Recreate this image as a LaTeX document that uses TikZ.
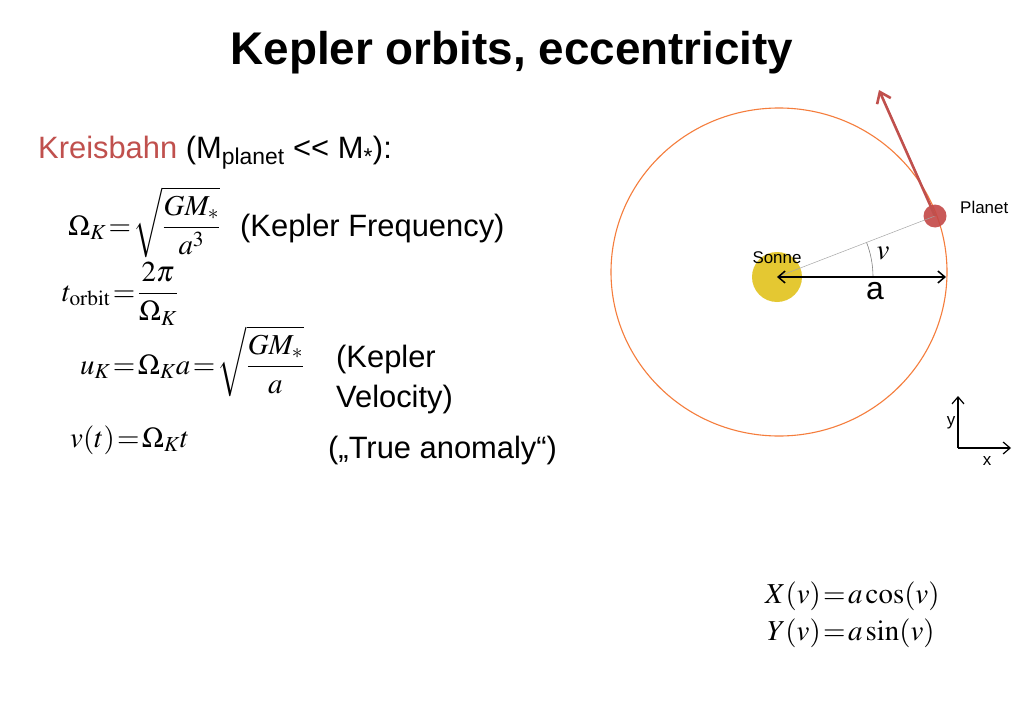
\documentclass[tikz,border=0pt]{standalone}
\usepackage{mathptmx}
\usepackage[no-math]{fontspec}
\setmainfont{Liberation Sans}
\usetikzlibrary{arrows.meta}
\definecolor{kred}{RGB}{192,80,77}
\definecolor{orbitc}{RGB}{245,125,60}
\definecolor{sunc}{RGB}{228,200,50}
\definecolor{planetc}{RGB}{196,72,70}
\definecolor{arrowc}{RGB}{192,80,77}
\begin{document}
\begin{tikzpicture}[x=1bp,y=-1bp,
  txt/.style={inner sep=0pt, font=\fontsize{31}{39}\selectfont},
  eq/.style={inner sep=0pt, font=\fontsize{29}{35}\selectfont},
  small/.style={inner sep=0pt, font=\fontsize{17}{20}\selectfont},
  barbtip/.tip={Straight Barb[length=7bp,width=12bp]},
  redtip/.tip={Straight Barb[length=10bp,width=15bp]}]
\useasboundingbox (0,0) rectangle (1023,708);
\fill[white] (0,0) rectangle (1023,708);

% title
\node[inner sep=0pt, anchor=base, font=\fontsize{46}{50}\selectfont\bfseries] (title) at (512,65) {Kepler orbits, eccentricity};

% left text
\node[txt, anchor=base west] (kreis) at (38,159) {\textcolor{kred}{Kreisbahn} (M\textsubscript{planet} <\kern0pt< M\textsubscript{*}):};

\node[eq, anchor=base west] (omk) at (68,235) {$\thickmuskip=1.5mu\displaystyle\Omega_K=\sqrt{\frac{GM_*}{a^3}}$};
\node[txt, anchor=base west] (kfreq) at (240,236) {(Kepler Frequency)};

\node[eq, anchor=base west] (torb) at (62,301) {$\thickmuskip=1.5mu\displaystyle t_{\mathrm{orbit}}=\frac{2\pi}{\Omega_K}$};

\node[eq, anchor=base west] (uk) at (80,374) {$\thickmuskip=1.5mu\displaystyle u_K=\Omega_K a=\sqrt{\frac{GM_*}{a}}$};
\node[txt, anchor=base west, align=left] (kvel) at (336,407) {(Kepler\\[1pt]Velocity)};

\node[eq, anchor=base west] (vt) at (70,447) {$\thickmuskip=1.5mu v(t)=\Omega_K t$};
\node[txt, anchor=base west] (true) at (328,458) {(„True anomaly“)};

\node[eq, anchor=base west] (xv) at (765,603) {$\thickmuskip=1.5mu X(v)=a\cos(v)$};
\node[eq, anchor=base west] (yv) at (767,640) {$\thickmuskip=1.5mu Y(v)=a\sin(v)$};

% orbit diagram
\coordinate (orbc) at (779,272);
\draw[orbitc, line width=1.1bp] (orbc) ellipse [x radius=168, y radius=164];
\node[circle, fill=sunc, minimum size=50bp, inner sep=0pt] (sun) at (777,277) {};
\node[circle, fill=planetc, fill opacity=0.9, minimum size=23bp, inner sep=0pt] (planet) at (935,216) {};
\draw[gray!70, line width=0.5bp] (sun.center) -- (planet.center);
\draw[gray, line width=0.6bp] (sun.center) ++(0:96) arc[start angle=0, end angle=-21, radius=96];
\coordinate (aend) at (946,277);
\draw[barbtip-barbtip, line width=1.5bp] (sun.center) -- (aend);
\node[inner sep=0pt, font=\fontsize{32}{36}\selectfont] (alab) at (875,291) {a};
\node[eq] (nulab) at (883,253) {$v$};
\node[small] (sonne) at (777,258) {Sonne};
\node[small, anchor=west] (plab) at (960,207) {Planet};
\coordinate (vtip) at (879,90);
\draw[arrowc, line width=2.6bp, -redtip] (planet.center) -- (vtip);

% axes
\coordinate (ax0) at (958,448);
\coordinate (axy) at (958,396);
\coordinate (axx) at (1011,448);
\draw[line width=1.2bp, -barbtip] (ax0) -- (axy);
\draw[line width=1.2bp, -barbtip] (ax0) -- (axx);
\node[small] (ylab) at (951,423) {y};
\node[small] (xlab) at (987,461) {x};
\end{tikzpicture}
\end{document}
